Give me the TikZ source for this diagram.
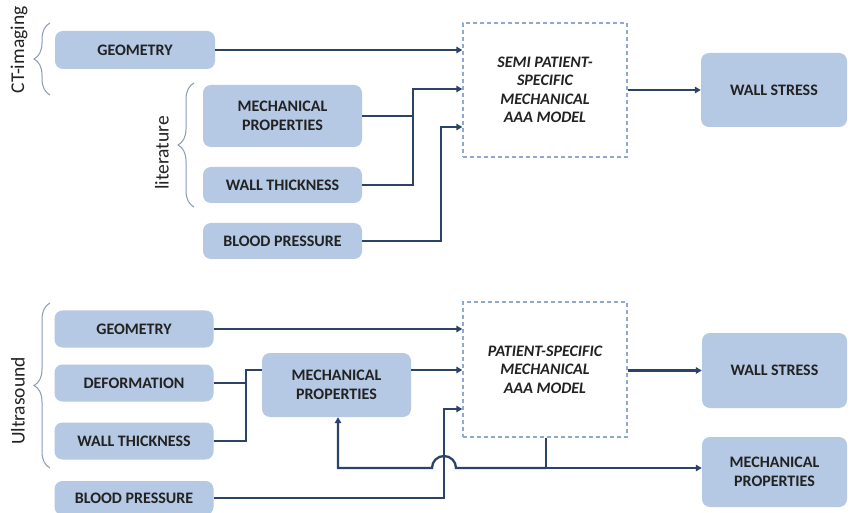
\documentclass[tikz,border=0pt]{standalone}
\usepackage{fontspec}
\setmainfont{Carlito}
\usetikzlibrary{arrows.meta,decorations.pathreplacing,calc}
\definecolor{boxfill}{HTML}{B5C8E4}
\definecolor{linec}{HTML}{2A4366}
\definecolor{dashc}{HTML}{8DA9D2}
\definecolor{txt}{HTML}{222222}
\definecolor{bracec}{HTML}{8A9BB5}
\begin{document}
\begin{tikzpicture}[x=1pt,y=-1pt,
 box/.style={rounded corners=8pt, fill=boxfill, draw=none, align=center, font=\fontsize{16}{18.5}\selectfont\bfseries, text=txt, inner sep=0pt},
 model/.style={draw=dashc, dash pattern=on 4pt off 3pt, line width=1.4pt, fill=white, align=center, font=\fontsize{16}{18.5}\selectfont\bfseries\itshape, text=txt, inner sep=0pt},
 conn/.style={draw=linec, line width=2.3pt},
 arr/.style={conn, -{Triangle[length=6pt,width=6.5pt]}},
 lbl/.style={rotate=90, font=\fontsize{19.5}{24}\selectfont, text=txt},
 brc/.style={draw=bracec, line width=1pt, decorate, decoration={brace, amplitude=16pt}}]
\useasboundingbox (0,0) rectangle (852,513);
\fill[white] (0,0) rectangle (852,513);

% ---- top section ----
\node[box, minimum width=160pt, minimum height=38pt] (geo1) at (135,50) {GEOMETRY};
\node[box, minimum width=159pt, minimum height=62pt] (mp1) at (282.5,116) {MECHANICAL\\PROPERTIES};
\node[box, minimum width=159pt, minimum height=36pt] (wt1) at (282.5,185) {WALL THICKNESS};
\node[box, minimum width=159pt, minimum height=36pt] (bp1) at (282.5,241) {BLOOD PRESSURE};
\node[model, minimum width=164pt, minimum height=134pt] (semi) at (545,90) {SEMI PATIENT-\\SPECIFIC\\MECHANICAL\\AAA MODEL};
\node[box, minimum width=146pt, minimum height=74pt] (ws1) at (774,90) {WALL STRESS};

\node[lbl] (ct) at (19,50) {CT-imaging};
\node[lbl] (lit) at (162,153) {literature};
\draw[brc] (50,95) -- (50,23);
\draw[brc] (194,207) -- (194,83);

\coordinate (j1) at (413,89);
\coordinate (k1) at (441,127);
\draw[arr] (geo1.east) -- (geo1.east -| semi.west);
\draw[conn] (mp1.east) -- (mp1.east -| j1);
\draw[arr] (wt1.east) -| (j1) -- (j1 -| semi.west);
\draw[arr] (bp1.east) -| (k1) -- (k1 -| semi.west);
\draw[arr] (semi.east) -- (ws1.west);

% ---- bottom section ----
\node[box, minimum width=159pt, minimum height=37pt] (geo2) at (134,329) {GEOMETRY};
\node[box, minimum width=159pt, minimum height=37pt] (def2) at (134,383) {DEFORMATION};
\node[box, minimum width=159pt, minimum height=37pt] (wt2) at (134,441) {WALL THICKNESS};
\node[box, minimum width=159pt, minimum height=34pt] (bp2) at (134,498) {BLOOD PRESSURE};
\node[box, minimum width=149pt, minimum height=64pt] (mp2) at (336.5,385) {MECHANICAL\\PROPERTIES};
\node[model, minimum width=164pt, minimum height=135pt] (ps) at (545,369.5) {PATIENT-SPECIFIC\\MECHANICAL\\AAA MODEL};
\node[box, minimum width=145pt, minimum height=75pt] (ws2) at (774.5,370.5) {WALL STRESS};
\node[box, minimum width=145pt, minimum height=70pt] (mp3) at (774.5,472) {MECHANICAL\\PROPERTIES};

\node[lbl] (us) at (18,401) {Ultrasound};
\draw[brc] (50,468) -- (50,303);

\coordinate (j2) at (246,370);
\coordinate (k2) at (444,409);
\coordinate (fb) at (546,468);
\draw[arr] (geo2.east) -- (geo2.east -| ps.west);
\draw[conn] (def2.east) -- (def2.east -| j2);
\draw[conn] (wt2.east) -| (j2) -- (j2 -| mp2.west);
\draw[arr] (j2 -| mp2.east) -- (j2 -| ps.west);
\draw[arr] (bp2.east) -| (k2) -- (k2 -| ps.west);
\draw[arr] (fb |- ps.south) -- (fb) -- (fb -| mp3.west);
\draw[arr] (fb) -- (456,468) arc[start angle=0, end angle=180, radius=12pt] -- (fb -| 338,0) -- (338,0 |- mp2.south);
\draw[arr] (ps.east |- ws2.west) -- (ws2.west);
\end{tikzpicture}
\end{document}
